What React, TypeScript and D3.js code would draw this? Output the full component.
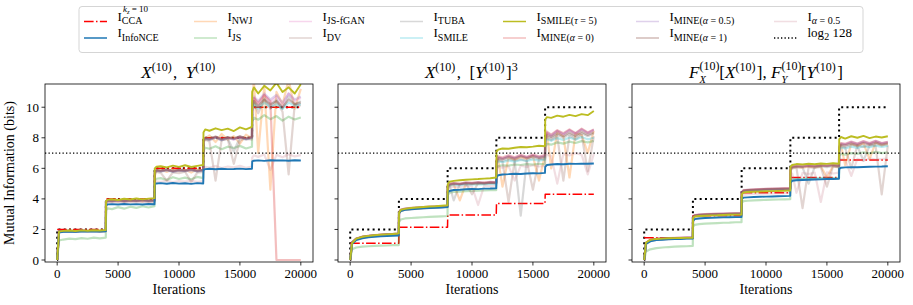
import React from "react";
import * as d3 from "d3";

// iterations at which every estimate was sampled (jumps at each 4000)
const iters = [
  0, 150, 500, 1000, 1500, 2000, 2500, 3000, 3500, 3990,
  4010, 4150, 4500, 5000, 5500, 6000, 6500, 7000, 7500, 7990,
  8010, 8150, 8500, 9000, 9500, 10000, 10500, 11000, 11500, 11990,
  12010, 12150, 12500, 13000, 13500, 14000, 14500, 15000, 15500, 15990,
  16010, 16150, 16500, 17000, 17500, 18000, 18500, 19000, 19500, 20000,
];

// true MI (dotted steps) and the log2(128) bound
const trueIters = [0, 1, 4000, 8000, 12000, 16000, 20000];
const trueMI = [0, 2, 4, 6, 8, 10, 10];
const logBound = 7;

const xTicks = [0, 5000, 10000, 15000, 20000];
const yTicks = [0, 2, 4, 6, 8, 10];

// ---- panel 1: X, Y ----
const ccaP1 = [2,2,2,2,2,2,2,2,2,2, 4,4,4,4,4,4,4,4,4,4, 6,6,6,6,6,6,6,6,6,6, 8,8,8,8,8,8,8,8,8,8, 10,10,10,10,10,10,10,10,10,10];
const infoNceP1 = [0,1.80,1.84,1.86,1.85,1.87,1.86,1.88,1.87,1.88, 3.58,3.64,3.66,3.63,3.67,3.64,3.66,3.63,3.67,3.65, 4.96,5.01,5.03,4.99,5.04,5.00,5.02,4.98,5.03,5.01, 5.90,5.95,5.97,5.94,5.97,5.95,5.96,5.98,5.95,5.97, 6.45,6.50,6.52,6.49,6.53,6.51,6.52,6.50,6.53,6.51];
const nwjP1 = [0,1.84,1.88,1.91,1.86,1.92,1.89,1.93,1.88,1.91, 3.78,3.86,3.92,3.82,3.94,3.86,3.91,3.84,3.95,3.88, 5.65,5.85,5.92,5.76,5.96,5.81,5.90,5.72,5.94,5.86, 7.70,7.95,8.15,7.72,8.25,7.88,8.10,7.62,8.20,7.98, 10.6,11.7,7.0,11.4,4.6,11.0,10.2,11.8,9.9,11.2];
const jsP1 = [0,1.28,1.34,1.40,1.37,1.43,1.39,1.46,1.42,1.47, 3.25,3.38,3.33,3.46,3.36,3.49,3.41,3.52,3.44,3.53, 5.20,5.32,5.36,5.24,5.42,5.30,5.39,5.28,5.44,5.36, 7.15,7.35,7.28,7.44,7.25,7.42,7.33,7.47,7.30,7.41, 9.05,9.32,9.18,9.48,9.22,9.42,9.12,9.38,9.20,9.33];
const fganP1 = [0,1.85,1.89,1.90,1.88,1.92,1.90,1.91,1.89,1.92, 3.80,3.88,3.86,3.91,3.85,3.90,3.87,3.92,3.88,3.91, 5.72,5.84,5.80,5.88,5.79,5.86,5.82,5.90,5.81,5.87, 7.80,7.92,7.86,8.02,7.84,7.98,7.88,8.05,7.90,8.00, 10.1,10.6,10.2,10.8,10.3,10.7,10.1,10.9,10.4,10.6];
const dvP1 = [0,1.82,1.87,1.89,1.86,1.90,1.88,1.90,1.87,1.89, 3.76,3.84,3.82,3.88,3.80,3.86,3.83,3.87,3.81,3.85, 5.55,5.76,5.70,5.20,5.74,5.68,5.78,5.10,5.72,5.76, 7.70,7.88,7.75,5.20,7.85,7.92,6.30,7.84,7.95,7.88, 9.80,10.3,9.60,10.5,9.90,10.4,9.70,5.60,10.2,10.1];
const tubaP1 = [0,1.84,1.88,1.90,1.87,1.91,1.89,1.90,1.88,1.90, 3.79,3.87,3.84,3.90,3.83,3.89,3.85,3.91,3.86,3.89, 5.70,5.82,5.78,5.86,5.76,5.84,5.80,5.88,5.78,5.85, 7.78,7.90,7.84,8.00,7.82,7.95,7.10,8.02,7.88,7.97, 9.9,10.4,10.0,10.6,10.1,10.5,9.9,10.7,10.2,10.4];
const smileP1 = [0,1.85,1.89,1.91,1.88,1.92,1.90,1.92,1.89,1.91, 3.82,3.89,3.87,3.92,3.86,3.91,3.88,3.93,3.87,3.90, 5.75,5.86,5.82,5.90,5.80,5.88,5.84,5.91,5.82,5.88, 7.85,7.96,7.90,8.04,7.88,8.00,7.92,8.06,7.93,8.02, 10.0,10.2,9.9,10.3,10.0,10.2,9.9,10.3,10.1,10.2];
const smile5P1 = [0,1.86,1.91,1.93,1.90,1.94,1.92,1.95,1.93,1.96, 3.85,3.95,3.98,3.93,4.01,3.96,4.03,3.97,4.02,4.05, 6.00,6.10,6.14,6.06,6.18,6.10,6.20,6.09,6.16,6.22, 8.35,8.55,8.46,8.62,8.50,8.60,8.44,8.68,8.55,8.72, 11.0,11.3,10.9,11.4,11.1,11.6,11.0,11.3,10.9,11.5];
const mine0P1 = [0,1.86,1.90,1.92,1.89,1.93,1.91,1.93,1.90,1.92, 3.83,3.90,3.88,3.93,3.87,3.92,3.89,3.94,3.88,3.91, 5.76,5.88,5.84,5.92,5.82,5.90,5.86,5.93,5.84,5.90, 7.88,7.98,7.92,8.06,7.90,8.02,7.94,8.08,7.95,8.04, 10.2,10.6,10.3,10.8,10.4,0,0,0,0,0];
const mine05P1 = [0,1.85,1.89,1.91,1.88,1.92,1.90,1.91,1.89,1.91, 3.81,3.88,3.86,3.91,3.85,3.90,3.87,3.92,3.87,3.90, 5.74,5.85,5.81,5.89,5.79,5.87,5.83,5.90,5.81,5.87, 7.84,7.95,7.89,8.05,7.87,8.00,7.90,8.06,7.92,8.02, 10.3,10.7,10.4,10.9,10.5,10.8,10.3,10.9,10.5,10.7];
const mine1P1 = [0,1.86,1.90,1.92,1.89,1.93,1.91,1.92,1.90,1.92, 3.84,3.91,3.88,3.94,3.87,3.92,3.89,3.95,3.89,3.92, 5.78,5.89,5.85,5.93,5.83,5.91,5.87,5.94,5.85,5.91, 7.90,8.00,7.94,8.08,7.92,8.04,7.96,8.10,7.97,8.06, 10.0,10.4,10.1,10.5,10.2,10.4,10.0,10.5,10.2,10.3];
const alphaP1 = [0,1.82,1.86,1.88,1.85,1.89,1.87,1.89,1.86,1.88, 3.70,3.78,3.75,3.80,3.74,3.79,3.76,3.81,3.75,3.78, 5.05,5.15,5.12,5.18,5.10,5.16,5.13,5.19,5.11,5.16, 6.00,6.10,6.05,6.15,6.02,6.12,6.06,6.16,6.04,6.12, 6.70,6.85,6.75,6.90,5.90,6.88,6.72,6.92,6.78,6.86];

// ---- panel 2: X, [Y]^3 ----
const ccaP2 = [1.1,1.1,1.1,1.1,1.1,1.1,1.1,1.1,1.1,1.1, 2.15,2.15,2.15,2.15,2.15,2.15,2.15,2.15,2.15,2.15, 2.95,2.95,2.95,2.95,2.95,2.95,2.95,2.95,2.95,2.95, 3.7,3.7,3.7,3.7,3.7,3.7,3.7,3.7,3.7,3.7, 4.3,4.3,4.3,4.3,4.3,4.3,4.3,4.3,4.3,4.3];
const infoNceP2 = [0,1.05,1.30,1.42,1.48,1.52,1.55,1.57,1.58,1.60, 3.05,3.20,3.28,3.32,3.35,3.38,3.40,3.42,3.43,3.46, 4.40,4.52,4.58,4.60,4.63,4.65,4.64,4.67,4.68,4.70, 5.40,5.55,5.60,5.62,5.65,5.63,5.66,5.68,5.67,5.70, 6.10,6.22,6.25,6.28,6.27,6.30,6.29,6.31,6.30,6.32];
const nwjP2 = [0,1.12,1.38,1.50,1.56,1.60,1.63,1.66,1.68,1.71, 3.05,3.22,3.30,3.34,3.38,3.40,3.43,3.45,3.47,3.50, 4.70,4.88,4.95,3.90,5.00,5.02,4.98,5.05,5.03,5.08, 6.40,6.60,4.80,6.70,6.55,6.75,6.62,6.80,5.20,6.85, 7.90,8.30,6.00,8.40,8.10,5.40,8.30,8.20,7.00,8.45];
const jsP2 = [0,0.70,0.82,0.88,0.90,0.92,0.94,0.95,0.97,0.98, 2.50,2.65,2.72,2.75,2.78,2.80,2.82,2.84,2.86,2.88, 4.25,4.40,4.45,4.48,4.50,4.52,4.54,4.55,4.57,4.58, 6.00,6.15,6.20,6.18,6.25,6.22,6.28,6.24,6.30,6.26, 7.40,7.60,7.55,7.70,7.62,7.75,7.66,7.78,7.70,7.80];
const fganP2 = [0,1.15,1.40,1.52,1.58,1.62,1.65,1.68,1.70,1.73, 3.12,3.28,3.35,3.39,3.42,3.45,3.47,3.49,3.51,3.53, 4.80,4.95,5.00,4.96,5.04,5.02,5.06,5.04,5.08,5.06, 6.50,6.70,6.62,6.78,6.66,6.82,6.70,6.85,6.72,6.80, 7.90,8.30,8.10,8.45,8.20,8.50,8.25,8.55,8.30,8.50];
const dvP2 = [0,1.14,1.39,1.51,1.57,1.61,1.64,1.67,1.69,1.72, 3.10,3.26,3.33,3.37,3.40,3.43,3.45,3.47,3.49,3.52, 4.75,4.92,4.98,4.94,5.02,4.30,5.04,5.00,5.06,5.04, 6.30,6.55,6.45,3.80,6.50,6.60,6.48,4.60,6.62,6.58, 7.70,8.00,7.85,8.10,5.20,8.15,7.90,8.20,5.80,8.10];
const tubaP2 = [0,1.13,1.38,1.50,1.56,1.60,1.63,1.66,1.68,1.71, 3.08,3.24,3.31,3.35,3.38,3.41,3.44,3.46,3.48,3.51, 4.78,4.90,3.90,4.97,5.00,4.98,5.03,5.00,5.05,5.02, 6.35,6.58,6.48,6.62,6.52,2.90,6.55,6.70,6.60,6.68, 7.80,8.10,7.95,8.20,8.00,8.25,8.05,8.30,8.10,8.28];
const smileP2 = [0,1.12,1.37,1.49,1.55,1.59,1.62,1.65,1.67,1.70, 3.08,3.23,3.30,3.34,3.37,3.40,3.42,3.44,3.46,3.49, 4.72,4.86,4.92,4.90,4.95,4.93,4.97,4.95,4.99,4.97, 6.25,6.45,6.40,6.52,6.44,6.55,6.48,6.58,6.50,6.56, 7.60,7.90,7.80,7.98,7.85,8.02,7.88,8.05,7.90,8.00];
const smile5P2 = [0,1.10,1.40,1.52,1.58,1.62,1.66,1.68,1.70,1.74, 3.10,3.28,3.35,3.40,3.44,3.47,3.50,3.52,3.55,3.58, 4.95,5.12,5.18,5.22,5.25,5.28,5.30,5.33,5.35,5.40, 7.10,7.22,7.30,7.28,7.35,7.40,7.38,7.42,7.48,7.45, 9.20,9.35,9.30,9.45,9.38,9.50,9.42,9.55,9.48,9.75];
const mine0P2 = [0,1.16,1.41,1.53,1.59,1.63,1.66,1.69,1.71,1.74, 3.14,3.30,3.37,3.41,3.44,3.47,3.49,3.51,3.53,3.55, 4.85,5.00,5.05,5.00,5.08,5.05,5.10,5.07,5.12,5.09, 6.55,6.78,6.70,6.85,6.72,6.88,6.75,6.90,6.78,6.86, 8.00,8.40,8.20,8.50,8.30,8.55,8.30,8.60,8.35,8.55];
const mine05P2 = [0,1.15,1.40,1.52,1.58,1.62,1.65,1.68,1.70,1.73, 3.13,3.29,3.36,3.40,3.43,3.46,3.48,3.50,3.52,3.54, 4.82,4.97,5.02,4.98,5.06,5.03,5.08,5.05,5.10,5.07, 6.50,6.72,6.65,6.80,6.68,6.84,6.72,6.86,6.74,6.82, 7.95,8.35,8.15,8.45,8.25,8.50,8.28,8.55,8.32,8.52];
const mine1P2 = [0,1.14,1.39,1.51,1.57,1.61,1.64,1.67,1.69,1.72, 3.11,3.27,3.34,3.38,3.41,3.44,3.46,3.48,3.50,3.53, 4.80,4.94,5.00,4.96,5.03,5.00,5.05,5.02,5.07,5.05, 6.45,6.68,6.60,6.74,6.62,6.78,6.66,6.80,6.68,6.76, 7.85,8.20,8.05,8.30,8.10,8.35,8.12,8.40,8.18,8.36];
const alphaP2 = [0,1.10,1.35,1.46,1.52,1.56,1.59,1.62,1.64,1.66, 3.05,3.20,3.28,3.32,3.35,3.38,3.40,3.42,3.44,3.46, 4.60,4.75,4.80,4.78,4.85,4.82,3.60,4.86,4.84,4.88, 5.90,6.10,6.05,6.15,5.20,6.18,6.10,6.20,6.12,6.16, 6.60,6.90,6.80,5.00,6.95,6.85,7.00,6.90,5.60,6.95];

// ---- panel 3: F_X[X], F_Y[Y] ----
const ccaP3 = [1.45,1.45,1.45,1.45,1.45,1.45,1.45,1.45,1.45,1.45, 2.9,2.9,2.9,2.9,2.9,2.9,2.9,2.9,2.9,2.9, 4.4,4.4,4.4,4.4,4.4,4.4,4.4,4.4,4.4,4.4, 5.4,5.4,5.4,5.4,5.4,5.4,5.4,5.4,5.4,5.4, 6.55,6.55,6.55,6.55,6.55,6.55,6.55,6.55,6.55,6.55];
const infoNceP3 = [0,1.05,1.22,1.30,1.33,1.35,1.37,1.38,1.40,1.41, 2.55,2.68,2.72,2.75,2.76,2.78,2.79,2.80,2.81,2.82, 4.00,4.08,4.10,4.12,4.14,4.15,4.16,4.17,4.18,4.20, 5.05,5.18,5.22,5.24,5.25,5.27,5.28,5.30,5.30,5.32, 5.95,6.04,6.06,6.08,6.07,6.09,6.10,6.11,6.12,6.14];
const nwjP3 = [0,1.10,1.30,1.37,1.40,1.42,1.43,1.44,1.45,1.46, 2.80,2.90,2.94,2.96,2.98,2.99,3.00,3.01,3.02,3.03, 4.40,4.52,4.56,4.58,4.60,4.62,4.63,4.64,4.65,4.66, 5.90,6.05,6.10,6.02,6.12,6.06,6.14,5.40,6.15,6.10, 7.30,7.55,6.20,7.60,7.45,7.65,6.60,7.70,7.50,7.62];
const jsP3 = [0,0.55,0.70,0.78,0.82,0.85,0.87,0.89,0.90,0.92, 2.20,2.30,2.35,2.38,2.40,2.42,2.44,2.45,2.47,2.48, 3.75,3.85,3.88,3.90,3.92,3.94,3.95,3.96,3.97,3.98, 5.15,5.25,5.28,5.30,5.32,5.31,5.34,5.33,5.35,5.36, 6.80,6.95,6.90,7.00,6.95,7.05,6.98,7.08,7.00,7.05];
const fganP3 = [0,1.12,1.31,1.38,1.41,1.43,1.44,1.45,1.46,1.47, 2.82,2.92,2.96,2.98,3.00,3.01,3.02,3.03,3.04,3.05, 4.42,4.55,4.58,4.60,4.62,4.64,4.65,4.66,4.67,4.68, 5.95,6.10,6.15,6.12,6.18,6.14,6.20,6.16,6.22,6.18, 7.40,7.60,7.55,7.70,7.58,7.72,7.60,7.75,7.62,7.70];
const dvP3 = [0,1.10,1.29,1.36,1.39,1.41,1.42,1.43,1.44,1.45, 2.78,2.88,2.92,2.95,2.97,2.98,2.99,3.00,3.01,3.02, 4.38,4.50,4.54,4.56,4.58,4.60,4.61,4.62,4.63,4.64, 5.85,6.00,6.05,3.40,6.08,6.02,6.10,4.80,6.12,6.06, 7.20,7.45,7.35,6.00,7.50,7.40,7.55,7.45,4.30,7.50];
const tubaP3 = [0,1.11,1.30,1.37,1.40,1.42,1.43,1.44,1.45,1.46, 2.80,2.90,2.94,2.97,2.99,3.00,3.01,3.02,3.03,3.04, 4.40,4.52,4.56,4.58,4.60,4.62,4.63,4.64,4.65,4.66, 5.90,6.04,6.08,6.06,5.00,6.10,6.12,6.08,6.14,6.10, 7.25,7.50,7.40,7.55,7.45,6.50,7.48,7.60,7.50,7.58];
const smileP3 = [0,1.08,1.27,1.34,1.37,1.39,1.40,1.41,1.42,1.43, 2.76,2.86,2.90,2.93,2.95,2.96,2.97,2.98,2.99,3.00, 4.35,4.47,4.51,4.53,4.55,4.57,4.58,4.59,4.60,4.61, 5.20,5.28,5.30,5.32,5.31,5.33,5.34,5.35,5.34,5.36, 7.10,7.35,7.30,7.42,7.34,7.45,7.38,7.48,7.40,7.46];
const smile5P3 = [0,1.15,1.32,1.38,1.40,1.42,1.43,1.44,1.45,1.46, 2.75,2.85,2.88,2.90,2.92,2.93,2.95,2.96,2.97,2.98, 4.30,4.42,4.45,4.47,4.48,4.50,4.51,4.52,4.53,4.55, 6.10,6.22,6.28,6.25,6.30,6.27,6.32,6.29,6.33,6.30, 7.90,8.05,7.95,8.10,8.00,8.12,7.98,8.08,8.02,8.10];
const mine0P3 = [0,1.13,1.32,1.39,1.42,1.44,1.45,1.46,1.47,1.48, 2.84,2.94,2.98,3.00,3.02,3.03,3.04,3.05,3.06,3.07, 4.45,4.57,4.60,4.62,4.64,4.66,4.67,4.68,4.69,4.70, 6.00,6.14,6.18,6.15,6.20,6.17,6.22,6.19,6.24,6.20, 7.45,7.65,7.60,7.75,7.62,7.78,7.65,7.80,7.66,7.74];
const mine05P3 = [0,1.12,1.31,1.38,1.41,1.43,1.44,1.45,1.46,1.47, 2.83,2.93,2.97,2.99,3.01,3.02,3.03,3.04,3.05,3.06, 4.43,4.56,4.59,4.61,4.63,4.65,4.66,4.67,4.68,4.69, 5.98,6.12,6.16,6.13,6.19,6.15,6.21,6.17,6.23,6.19, 7.42,7.62,7.58,7.72,7.60,7.75,7.62,7.78,7.64,7.72];
const mine1P3 = [0,1.11,1.30,1.37,1.40,1.42,1.43,1.44,1.45,1.46, 2.81,2.91,2.95,2.97,2.99,3.00,3.01,3.02,3.03,3.04, 4.41,4.53,4.57,4.59,4.61,4.63,4.64,4.65,4.66,4.67, 5.94,6.08,6.12,6.10,6.15,6.12,6.18,6.14,6.20,6.16, 7.35,7.55,7.50,7.62,7.52,7.65,7.55,7.68,7.56,7.64];
const alphaP3 = [0,1.06,1.24,1.31,1.34,1.36,1.38,1.39,1.40,1.41, 2.65,2.76,2.80,2.83,2.85,2.86,2.87,2.88,2.89,2.90, 4.15,4.26,4.30,4.32,4.34,4.35,4.36,4.37,4.38,4.39, 5.50,5.65,4.40,5.70,5.62,5.72,3.80,5.74,5.66,5.72, 6.40,6.60,6.55,5.50,6.62,6.50,6.65,6.58,6.60,6.64];

// estimator order (legend is column-major, two rows)
const estimators = ["cca", "infonce", "nwj", "js", "fgan", "dv", "tuba", "smile", "smile5", "mine0", "mine05", "mine1", "alpha"];
const subLabels: Record<string, [string, boolean][]> = {
  cca: [["CCA", false]],
  infonce: [["InfoNCE", false]],
  nwj: [["NWJ", false]],
  js: [["JS", false]],
  fgan: [["JS-fGAN", false]],
  dv: [["DV", false]],
  tuba: [["TUBA", false]],
  smile: [["SMILE", false]],
  smile5: [["SMILE(", false], ["τ", true], [" = 5)", false]],
  mine0: [["MINE(", false], ["α", true], [" = 0)", false]],
  mine05: [["MINE(", false], ["α", true], [" = 0.5)", false]],
  mine1: [["MINE(", false], ["α", true], [" = 1)", false]],
  alpha: [["α", true], [" = 0.5", false]],
};

const seriesData: Record<string, number[][]> = {
  cca: [ccaP1, ccaP2, ccaP3],
  infonce: [infoNceP1, infoNceP2, infoNceP3],
  nwj: [nwjP1, nwjP2, nwjP3],
  js: [jsP1, jsP2, jsP3],
  fgan: [fganP1, fganP2, fganP3],
  dv: [dvP1, dvP2, dvP3],
  tuba: [tubaP1, tubaP2, tubaP3],
  smile: [smileP1, smileP2, smileP3],
  smile5: [smile5P1, smile5P2, smile5P3],
  mine0: [mine0P1, mine0P2, mine0P3],
  mine05: [mine05P1, mine05P2, mine05P3],
  mine1: [mine1P1, mine1P2, mine1P3],
  alpha: [alphaP1, alphaP2, alphaP3],
};

const styles: Record<string, { color: string; opacity: number; width: number; dash?: string }> = {
  cca: { color: "#ff0000", opacity: 1, width: 1.5, dash: "9.6 2.4 1.5 2.4" },
  infonce: { color: "#1f77b4", opacity: 1, width: 1.9 },
  nwj: { color: "#ff7f0e", opacity: 0.3, width: 2.2 },
  js: { color: "#2ca02c", opacity: 0.3, width: 2.2 },
  fgan: { color: "#e377c2", opacity: 0.3, width: 2.2 },
  dv: { color: "#8c564b", opacity: 0.25, width: 2.2 },
  tuba: { color: "#7f7f7f", opacity: 0.3, width: 2.2 },
  smile: { color: "#17becf", opacity: 0.3, width: 2.2 },
  smile5: { color: "#bcbd22", opacity: 1, width: 1.9 },
  mine0: { color: "#d62728", opacity: 0.3, width: 2.2 },
  mine05: { color: "#9467bd", opacity: 0.3, width: 2.2 },
  mine1: { color: "#8c564b", opacity: 0.4, width: 2.2 },
  alpha: { color: "#c97b8a", opacity: 0.25, width: 2.2 },
};

const drawOrder = ["cca", "nwj", "js", "fgan", "dv", "tuba", "smile", "mine0", "mine05", "mine1", "alpha", "infonce", "smile5"];

const W = 913, H = 305;
const panelLeft = [45, 338, 632];
const panelW = 268;
const top = 84, bottom = 262;
const FONT = "'Liberation Serif', 'DejaVu Serif', serif";
const SUP = 12;

const sup = (t: string) => (
  <>
    <tspan dy={-7} fontSize={SUP} fontStyle="normal">{t}</tspan>
    <tspan dy={7}>{"\u200A"}</tspan>
  </>
);

// F with stacked superscript (10) and subscript letter
const stacked = (letter: string) => (
  <>
    <tspan fontStyle="italic">F</tspan>
    <tspan dy={-8} fontSize={SUP}>(10)</tspan>
    <tspan dy={13} dx={-20} fontSize={10.5} fontStyle="italic">{letter}</tspan>
    <tspan dy={-5} dx={13.5}>[</tspan>
  </>
);

const titles = [
  <>
    <tspan fontStyle="italic">X</tspan>{sup("(10)")}<tspan>{",\u2002"}</tspan>
    <tspan fontStyle="italic">Y</tspan>{sup("(10)")}
  </>,
  <>
    <tspan fontStyle="italic">X</tspan>{sup("(10)")}<tspan>{",\u2002["}</tspan>
    <tspan fontStyle="italic">Y</tspan>{sup("(10)")}<tspan>]</tspan>{sup("3")}
  </>,
  <>
    {stacked("X")}
    <tspan fontStyle="italic">X</tspan>{sup("(10)")}<tspan>{"], "}</tspan>
    {stacked("Y")}
    <tspan fontStyle="italic">Y</tspan>{sup("(10)")}<tspan>]</tspan>
  </>,
];

const legendCols = [84, 194, 289, 400, 503, 636, 774];
const legendRows = [21.5, 38];

const Panel = ({ idx }: { idx: number }) => {
  const left = panelLeft[idx];
  const x = d3.scaleLinear().domain([-1000, 21000]).range([left, left + panelW]);
  const y = d3.scaleLinear().domain([-0.13, 11.52]).range([bottom, top]);
  const line = d3.line<number>().x((_, i) => x(iters[i])).y((d) => y(d));
  const truthLine = d3.line<number>().x((_, i) => x(trueIters[i])).y((d) => y(d)).curve(d3.curveStepAfter);
  const clipId = `clip${idx}`;
  return (
    <g>
      <defs>
        <clipPath id={clipId}>
          <rect x={left} y={top} width={panelW} height={bottom - top} />
        </clipPath>
      </defs>
      <g clipPath={`url(#${clipId})`}>
        <path d={truthLine(trueMI) || ""} fill="none" stroke="#000" strokeWidth={2} strokeDasharray="2 3.3" />
        {drawOrder.map((k) => {
          const s = styles[k];
          return (
            <path key={k} d={line(seriesData[k][idx]) || ""} fill="none" stroke={s.color}
              strokeOpacity={s.opacity} strokeWidth={s.width} strokeDasharray={s.dash}
              strokeLinejoin="round" />
          );
        })}
        <line x1={left} x2={left + panelW} y1={y(logBound)} y2={y(logBound)} stroke="#000"
          strokeWidth={1.3} strokeDasharray="1.3 2.2" />
      </g>
      <rect x={left} y={top} width={panelW} height={bottom - top} fill="none" stroke="#000" strokeWidth={0.8} />
      {xTicks.map((t) => (
        <g key={t}>
          <line x1={x(t)} x2={x(t)} y1={bottom} y2={bottom + 3.5} stroke="#000" strokeWidth={0.8} />
          <text x={x(t)} y={278} textAnchor="middle" fontSize={13} fontFamily={FONT}>{t}</text>
        </g>
      ))}
      {yTicks.map((t) => (
        <g key={t}>
          <line x1={left} x2={left - 3.5} y1={y(t)} y2={y(t)} stroke="#000" strokeWidth={0.8} />
          {idx === 0 && (
            <text x={left - 6} y={y(t) + 4.5} textAnchor="end" fontSize={13} fontFamily={FONT}>{t}</text>
          )}
        </g>
      ))}
      <text x={left + panelW / 2} y={294} textAnchor="middle" fontSize={14} fontFamily={FONT}>Iterations</text>
      <text x={left + panelW / 2} y={78} textAnchor="middle" fontSize={17} fontFamily={FONT}>{titles[idx]}</text>
    </g>
  );
};

const LegendLabel = ({ k, x, y }: { k: string; x: number; y: number }) => (
  <g fontFamily={FONT}>
    <text x={x} y={y} fontSize={13}>
      I
      <tspan dy={3.5} fontSize={10}>
        {subLabels[k].map(([t, it], i) => (
          <tspan key={i} fontStyle={it ? "italic" : "normal"}>{t}</tspan>
        ))}
      </tspan>
    </text>
    {k === "cca" && (
      <text x={x + 5.5} y={y - 8.5} fontSize={9}>
        <tspan fontStyle="italic">k</tspan>
        <tspan fontSize={6.5} dy={1.5} fontStyle="italic">z</tspan>
        <tspan dy={-1.5}> = 10</tspan>
      </text>
    )}
  </g>
);

const Legend = () => {
  const entries = [...estimators, "log2"];
  return (
    <g>
      <rect x={79} y={6.5} width={784} height={46} rx={3} fill="#fff" stroke="#d5d5d5" strokeWidth={1} />
      {entries.map((k, i) => {
        const col = Math.floor(i / 2);
        const row = i % 2;
        const hx = legendCols[col];
        const hy = legendRows[row];
        if (k === "log2") {
          return (
            <g key={k}>
              <line x1={hx} x2={hx + 23} y1={hy} y2={hy} stroke="#000" strokeWidth={1.3} strokeDasharray="1.3 2.2" />
              <text x={hx + 33.5} y={hy - 1} fontSize={13} fontFamily={FONT}>
                log<tspan dy={3} fontSize={10}>2</tspan><tspan dy={-3}> 128</tspan>
              </text>
            </g>
          );
        }
        const s = styles[k];
        return (
          <g key={k}>
            <line x1={hx} x2={hx + 23} y1={hy} y2={hy} stroke={s.color} strokeOpacity={s.opacity}
              strokeWidth={1.5} strokeDasharray={s.dash} />
            <LegendLabel k={k} x={hx + 33.5} y={hy - 1} />
          </g>
        );
      })}
    </g>
  );
};

export default function App() {
  return (
    <svg width={W} height={H} style={{ position: "absolute", left: 0, top: 0, background: "#fff" }}>
      <rect width={W} height={H} fill="#fff" />
      {[0, 1, 2].map((i) => <Panel key={i} idx={i} />)}
      <text transform={`translate(14,${(top + bottom) / 2}) rotate(-90)`} textAnchor="middle" fontSize={14}
        fontFamily={FONT}>Mutual Information (bits)</text>
      <Legend />
    </svg>
  );
}
